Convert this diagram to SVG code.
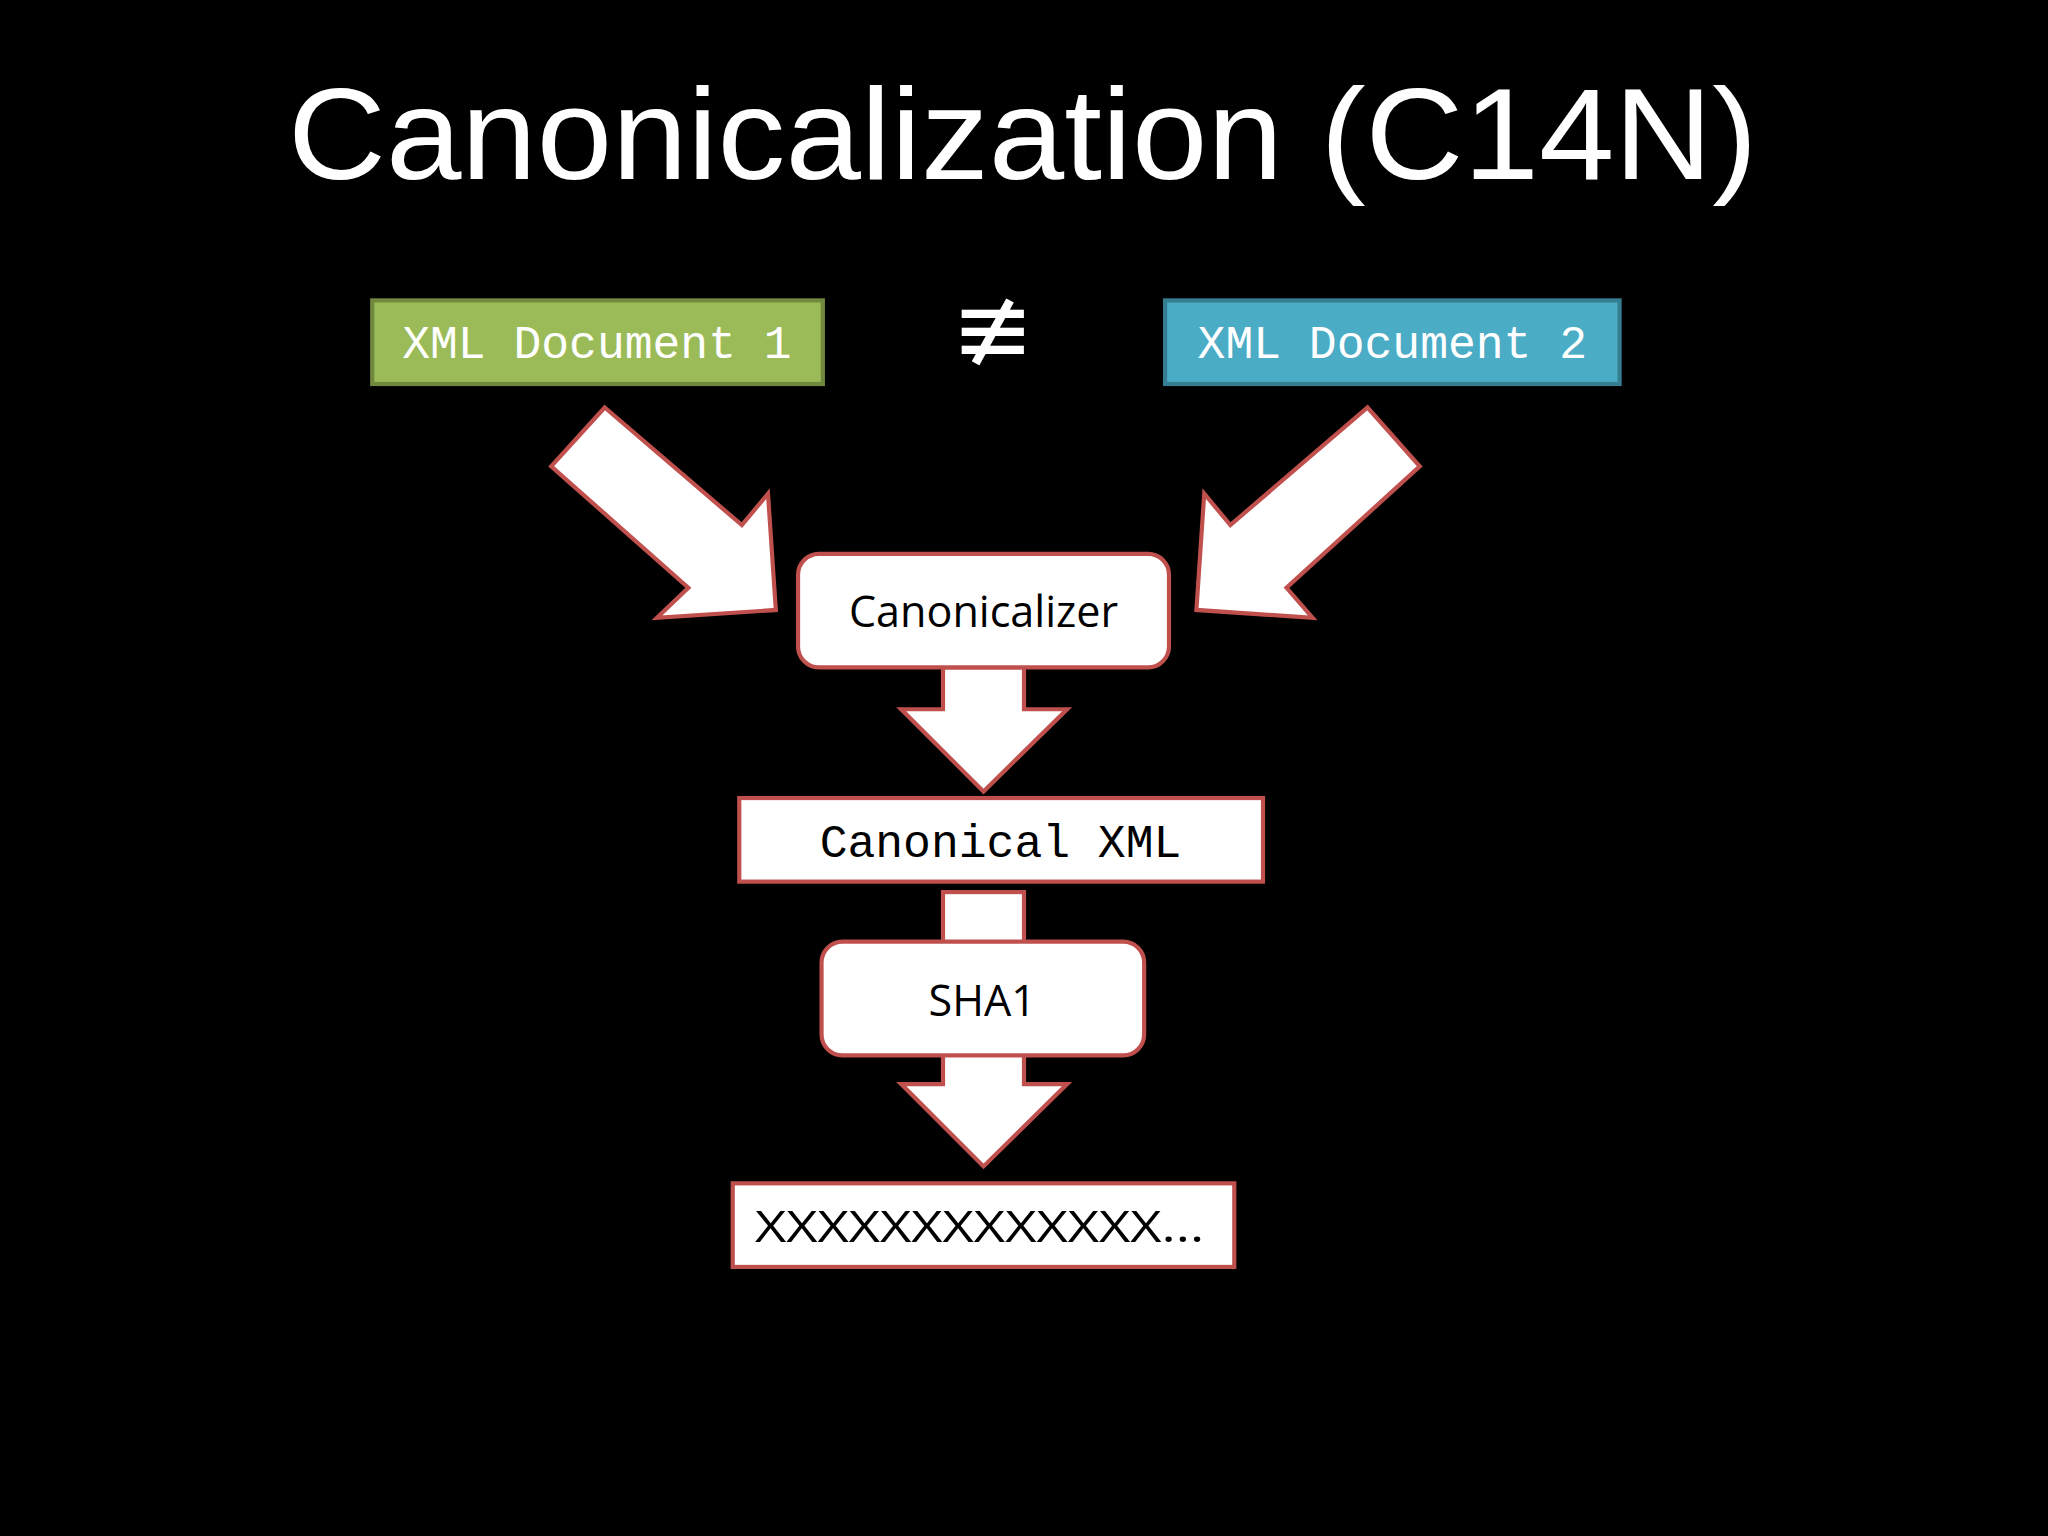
<svg xmlns="http://www.w3.org/2000/svg" width="2048" height="1536" viewBox="0 0 2048 1536">
<style>
.w{fill:#fff;stroke:#c0504d;stroke-width:3.2;stroke-linejoin:miter}
.mono{font-family:"Liberation Mono","DejaVu Sans Mono",monospace;font-size:35.5px;text-anchor:middle}
.sans{font-family:"Open Sans","Liberation Sans",sans-serif;font-size:33px;text-anchor:middle;fill:#000}
</style>
<rect width="2048" height="1536" fill="#000"/>
<g transform="scale(1.30612)">
<text x="783" y="137" font-family="'Liberation Sans',sans-serif" font-size="100" fill="#fff" text-anchor="middle" textLength="1125" lengthAdjust="spacingAndGlyphs">Canonicalization (C14N)</text>
<g id="doc1"><rect x="285" y="230" width="345" height="64" fill="#9bbb59" stroke="#71893f" stroke-width="3.2"/><text class="mono" x="457" y="274" fill="#fff">XML Document 1</text></g>
<g id="neq"><text x="760" y="278" font-family="'DejaVu Sans',sans-serif" font-size="76" fill="#fff" text-anchor="middle">≢</text></g>
<g id="doc2"><rect x="892" y="230" width="348" height="64" fill="#4bacc6" stroke="#357d91" stroke-width="3.2"/><text class="mono" x="1066" y="274" fill="#fff">XML Document 2</text></g>
<g id="connectors">
<polygon class="w" points="463,312 568,402 588,378 594,467 503,473 527,450 422,357"/>
<polygon class="w" points="1047,312 1087,357 985,450 1005,473 916,467 922,378 942,402"/>
<polygon class="w" points="722,511 784,511 784,543 817,543 753,606 690,543 722,543"/>
<rect class="w" x="722" y="683" width="62" height="40"/>
<polygon class="w" points="722,806 784,806 784,830 817,830 753,893 690,830 722,830"/>
</g>
<g id="canonicalizer"><rect class="w" x="611" y="424" width="284" height="87" rx="16"/><text class="sans" x="753" y="480">Canonicalizer</text></g>
<g id="canonicalxml"><rect class="w" x="566" y="611" width="401" height="64"/><text class="mono" x="766" y="656" fill="#000">Canonical XML</text></g>
<g id="sha1"><rect class="w" x="629" y="721" width="247" height="87" rx="16"/><text class="sans" x="752" y="778">SHA1</text></g>
<g id="hash"><rect class="w" x="561" y="906" width="384" height="64"/><text class="sans" x="750" y="951" textLength="344" lengthAdjust="spacingAndGlyphs">XXXXXXXXXXXXX...</text></g>
</g>
</svg>
